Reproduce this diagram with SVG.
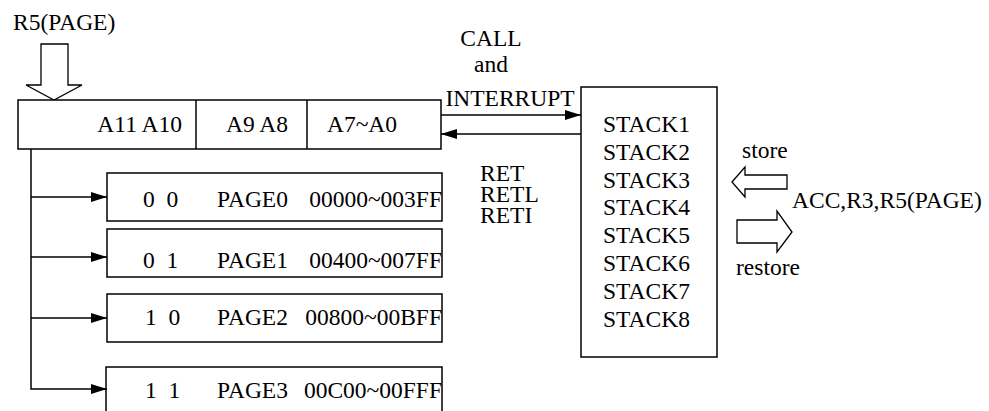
<svg xmlns="http://www.w3.org/2000/svg" width="989" height="411" viewBox="0 0 989 411" font-family="'Liberation Serif', 'Times New Roman', serif">
<defs>
<style>
text{font-family:"Liberation Serif","Times New Roman",serif;font-size:23.5px;fill:#000;white-space:pre}
.box{fill:#fff;stroke:#000;stroke-width:1.5}
.ln{fill:none;stroke:#000;stroke-width:1.5}
.big{fill:#fff;stroke:#000;stroke-width:1.3;stroke-linejoin:miter}
</style>
<marker id="ah" viewBox="0 0 16 10" refX="16" refY="5" markerWidth="16" markerHeight="10" markerUnits="userSpaceOnUse" orient="auto">
<path d="M0,0 L16,5 L0,10 z" fill="#000"/>
</marker>
</defs>
<rect width="989" height="411" fill="#fff"/>

<g id="r5label">
<text x="13" y="30">R5(PAGE)</text>
<polygon class="big" points="41,44 68,44 68,85 82,85 54,100 26,85 41,85"/>
</g>

<g id="register">
<rect class="box" x="18" y="100" width="423" height="49"/>
<line class="ln" x1="196" y1="100" x2="196" y2="149"/>
<line class="ln" x1="307" y1="100" x2="307" y2="149"/>
<text x="182" y="132" text-anchor="end">A11 A10</text>
<text x="257" y="132" text-anchor="middle">A9 A8</text>
<text x="362" y="132" text-anchor="middle">A7~A0</text>
</g>

<g id="page0">
<rect class="box" x="107" y="173" width="335" height="48"/>
<text x="143" y="207">0  0</text>
<text x="217" y="207">PAGE0</text>
<text x="442" y="207" text-anchor="end">00000~003FF</text>
</g>
<g id="page1">
<rect class="box" x="107" y="229" width="335" height="48"/>
<text x="143" y="268">0  1</text>
<text x="217" y="268">PAGE1</text>
<text x="442" y="268" text-anchor="end">00400~007FF</text>
</g>
<g id="page2">
<rect class="box" x="107" y="294" width="335" height="48"/>
<text x="145" y="325">1  0</text>
<text x="217" y="325">PAGE2</text>
<text x="442" y="325" text-anchor="end">00800~00BFF</text>
</g>
<g id="page3">
<rect class="box" x="106" y="367" width="336" height="50"/>
<text x="145" y="398">1  1</text>
<text x="217" y="398">PAGE3</text>
<text x="442" y="398" text-anchor="end">00C00~00FFF</text>
</g>

<g id="stack">
<rect class="box" x="581" y="87" width="136" height="270"/>
<text x="603" y="132">STACK1</text>
<text x="603" y="160">STACK2</text>
<text x="603" y="188">STACK3</text>
<text x="603" y="215">STACK4</text>
<text x="603" y="243">STACK5</text>
<text x="603" y="271">STACK6</text>
<text x="603" y="299">STACK7</text>
<text x="603" y="327">STACK8</text>
</g>

<g id="regs">
<text x="742" y="158">store</text>
<polygon class="big" points="732,182 745,167 745,175 787,175 787,189 745,189 745,197"/>
<text x="792" y="208">ACC,R3,R5(PAGE)</text>
<polygon class="big" points="737,220 777,220 777,211 792,232 777,252 777,243 737,243"/>
<text x="736" y="275">restore</text>
</g>

<g id="labels">
<text x="491" y="46" text-anchor="middle">CALL</text>
<text x="491" y="72" text-anchor="middle">and</text>
<text x="510" y="106" text-anchor="middle">INTERRUPT</text>
<text x="480" y="181">RET</text>
<text x="480" y="202">RETL</text>
<text x="480" y="223">RETI</text>
</g>

<g id="connectors">
<line class="ln" x1="441" y1="115" x2="581" y2="115" marker-end="url(#ah)"/>
<line class="ln" x1="581" y1="134" x2="441" y2="134" marker-end="url(#ah)"/>
<polyline class="ln" points="31,149 31,389 107,389" marker-end="url(#ah)"/>
<line class="ln" x1="31" y1="197" x2="107" y2="197" marker-end="url(#ah)"/>
<line class="ln" x1="31" y1="257" x2="107" y2="257" marker-end="url(#ah)"/>
<line class="ln" x1="31" y1="318" x2="107" y2="318" marker-end="url(#ah)"/>
</g>
</svg>
